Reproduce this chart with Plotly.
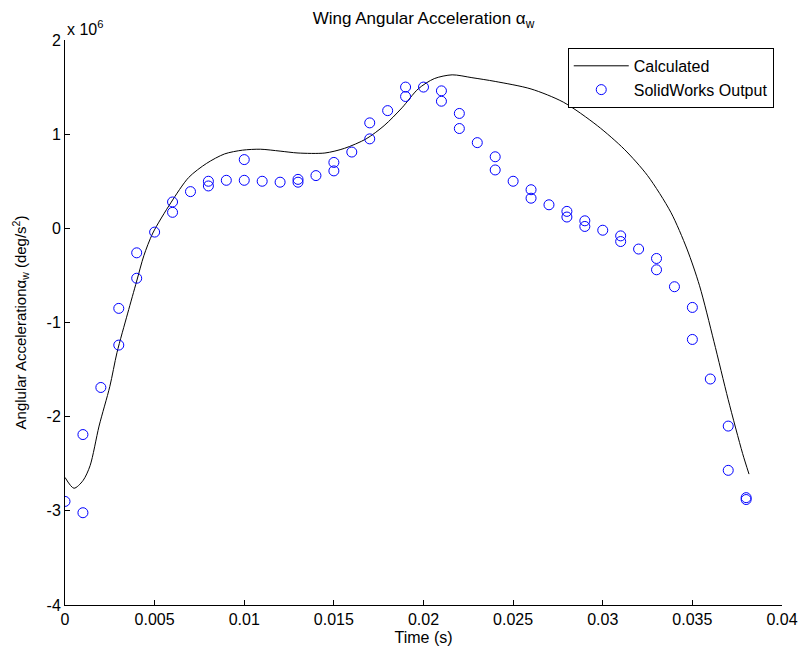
import plotly.graph_objects as go

# Calculated curve (time in s, acceleration in 1e6 deg/s^2)
calc_t = [0, 0.0005, 0.0010, 0.0014, 0.0019, 0.0025, 0.0029, 0.0035, 0.0040, 0.0044, 0.0049,
          0.0059, 0.0069, 0.0079, 0.0089, 0.0099, 0.0109, 0.0120, 0.0130, 0.0145, 0.0156,
          0.0168, 0.0178, 0.0188, 0.0197, 0.0206, 0.0216, 0.0227, 0.0240, 0.0260, 0.0278,
          0.0297, 0.0312, 0.0325, 0.0338, 0.0347, 0.0354, 0.0362, 0.0370, 0.0378, 0.03816]
calc_a = [-2.645, -2.76, -2.68, -2.52, -2.10, -1.68, -1.32, -0.90, -0.56, -0.29, -0.05,
          0.27, 0.54, 0.69, 0.79, 0.83, 0.84, 0.82, 0.80, 0.80, 0.85,
          0.95, 1.09, 1.28, 1.48, 1.59, 1.63, 1.60, 1.56, 1.48, 1.34,
          1.09, 0.84, 0.56, 0.17, -0.22, -0.61, -1.20, -1.82, -2.39, -2.61]

# SolidWorks output points
sw_t = [0, 0.001, 0.001, 0.002, 0.003, 0.003, 0.004, 0.004, 0.005, 0.006, 0.006,
        0.007, 0.008, 0.008, 0.009, 0.010, 0.010, 0.011, 0.012, 0.013, 0.013,
        0.014, 0.015, 0.015, 0.016, 0.017, 0.017, 0.018, 0.019, 0.019, 0.020,
        0.021, 0.021, 0.022, 0.022, 0.023, 0.024, 0.024, 0.025, 0.026, 0.026,
        0.027, 0.028, 0.028, 0.029, 0.029, 0.030, 0.031, 0.031, 0.032, 0.033,
        0.033, 0.034, 0.035, 0.035, 0.036, 0.037, 0.037, 0.038, 0.038]
sw_a = [-2.90, -2.19, -3.02, -1.69, -0.85, -1.24, -0.26, -0.53, -0.04, 0.28, 0.17,
        0.39, 0.50, 0.45, 0.51, 0.73, 0.51, 0.50, 0.49, 0.52, 0.49,
        0.56, 0.70, 0.61, 0.81, 1.12, 0.95, 1.25, 1.50, 1.40, 1.50,
        1.46, 1.35, 1.22, 1.06, 0.91, 0.76, 0.62, 0.50, 0.41, 0.32,
        0.25, 0.18, 0.12, 0.08, 0.02, -0.02, -0.08, -0.14, -0.22, -0.32,
        -0.44, -0.62, -0.84, -1.18, -1.60, -2.10, -2.57, -2.86, -2.88]

scale = 1e6
y_ticks = [-4, -3, -2, -1, 0, 1, 2]
x_ticks = [0, 0.005, 0.01, 0.015, 0.02, 0.025, 0.03, 0.035, 0.04]
x_ticklabels = ["0", "0.005", "0.01", "0.015", "0.02", "0.025", "0.03", "0.035", "0.04"]

FONT = "Liberation Sans, Arial, sans-serif"

fig = go.Figure()
fig.add_trace(go.Scatter(
    x=calc_t, y=[v * scale for v in calc_a], mode="lines", name="Calculated",
    line=dict(color="black", width=1, shape="spline", smoothing=0.8),
))
fig.add_trace(go.Scatter(
    x=sw_t, y=[v * scale for v in sw_a], mode="markers", name="SolidWorks Output",
    marker=dict(symbol="circle-open", size=10, color="#0000ff", line=dict(width=1, color="#0000ff")),
))

fig.update_layout(
    width=798, height=653,
    margin=dict(l=65, r=16, t=40, b=48),
    paper_bgcolor="white", plot_bgcolor="white",
    font=dict(family=FONT, size=16, color="black"),
    title=dict(text="Wing Angular Acceleration α<sub>w</sub>", xref="paper", x=0.5, xanchor="center",
               yref="container", y=1 - 18 / 653, yanchor="middle",
               font=dict(size=17, family=FONT, color="black")),
    showlegend=True,
    legend=dict(x=0.9885, xanchor="right", y=0.986, yanchor="top",
                bordercolor="black", borderwidth=1, bgcolor="white",
                font=dict(size=16, family=FONT, color="black"), itemwidth=55,
                tracegroupgap=0),
    xaxis=dict(range=[0, 0.04], tickvals=x_ticks, ticktext=x_ticklabels, automargin=False,
               showline=True, linecolor="black", linewidth=1, ticks="inside", ticklen=5,
               tickcolor="black", showgrid=False, zeroline=False, mirror=False,
               ticklabeloverflow="allow",
               title=dict(text="Time (s)", font=dict(size=16, family=FONT), standoff=4),
               tickfont=dict(size=16, family=FONT)),
    yaxis=dict(range=[-4 * scale, 2 * scale], tickvals=[v * scale for v in y_ticks],
               ticktext=[str(v) for v in y_ticks], automargin=False,
               showline=True, linecolor="black", linewidth=1, ticks="inside", ticklen=5,
               tickcolor="black", showgrid=False, zeroline=False, mirror=False,
               ticklabeloverflow="allow",
               title=dict(text="Anglular Accelerationα<sub>w</sub> (deg/s<sup>2</sup>)",
                          font=dict(size=15, family=FONT), standoff=16),
               tickfont=dict(size=16, family=FONT)),
    annotations=[dict(text="x 10<sup>6</sup>", xref="paper", yref="paper", x=0, y=1,
                      xanchor="left", yanchor="bottom", showarrow=False, yshift=0,
                      font=dict(size=16, family=FONT, color="black"))],
)

fig.write_html("out.html", config={"displayModeBar": False},
               post_script="document.body.style.margin='0';")
